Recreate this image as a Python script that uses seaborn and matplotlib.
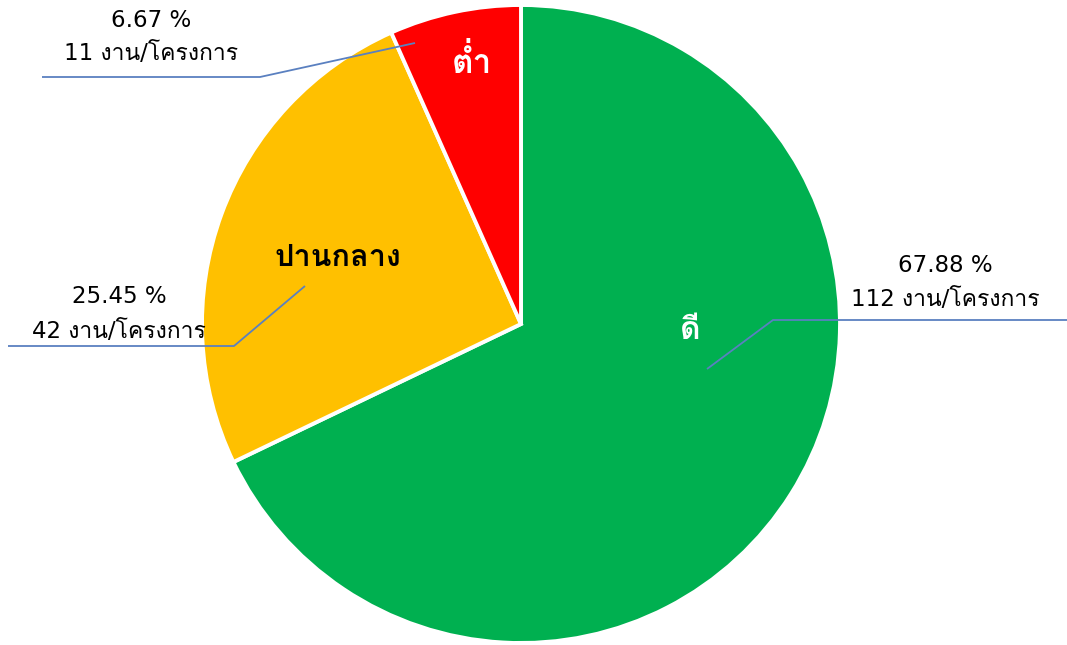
import matplotlib
matplotlib.use("Agg")
import matplotlib.pyplot as plt
import seaborn as sns

categories = ["ดี", "ปานกลาง", "ต่ำ"]
counts = [112, 42, 11]
percents = [67.88, 25.45, 6.67]
colors = ["#00B050", "#FFC000", "#FF0000"]
unit = "งาน/โครงการ"

sns.set_theme(style="white")
plt.rcParams["font.family"] = ["DejaVu Sans", "Loma", "Noto Sans Thai Looped"]

W, H = 1067, 645
fig = plt.figure(figsize=(W / 100, H / 100), dpi=100)
ax = fig.add_axes([0, 0, 1, 1])

cx, cy, R = 521, H - 324, 319
ax.pie(counts, colors=colors, startangle=90, counterclock=False,
       center=(cx, cy), radius=R,
       wedgeprops=dict(edgecolor="white", linewidth=2.8))
ax.set_xlim(0, W)
ax.set_ylim(0, H)
ax.set_aspect("equal")
ax.axis("off")

# category labels inside slices (x center, baseline y, colour, size)
inner = [(690, 339, "white", 23), (338, 266, "black", 22), (472, 73, "white", 24)]
for cat, (x, y, c, fs) in zip(categories, inner):
    ax.text(x, H - y, cat, ha="center", va="baseline", color=c,
            fontsize=fs, fontweight="bold",
            family=["Loma", "Noto Sans Thai Looped", "DejaVu Sans"])

# data labels (x center, baseline of first line, baseline of second line)
label_pos = [(945, 272, 306), (119, 303, 338), (151, 27, 60)]
leaders = [[(707, 369), (773, 320), (1067, 320)],
           [(305, 286), (234, 346), (8, 346)],
           [(415, 43), (260, 77), (42, 77)]]
for n, p, (x, y1, y2), pts in zip(counts, percents, label_pos, leaders):
    ax.text(x, H - y1, f"{p:.2f} %", ha="center", va="baseline",
            fontsize=16.5, color="black")
    ax.text(x, H - y2, f"{n} {unit}", ha="center", va="baseline",
            fontsize=16.5, color="black")
    ax.plot([q[0] for q in pts], [H - q[1] for q in pts],
            color="#5A80C0", lw=1.3, solid_capstyle="butt")

fig.savefig("out.png", dpi=100)
